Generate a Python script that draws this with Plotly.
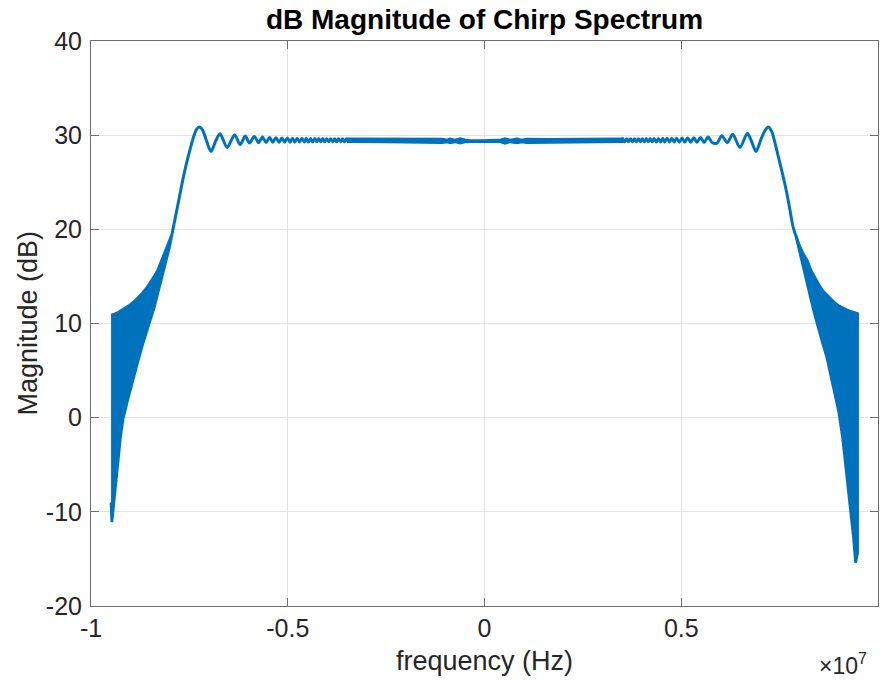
import plotly.graph_objects as go

# ---------------- data (frequency in MHz, magnitude in dB) ----------------
# left edge: dense oscillation band (outer/upper and inner/lower envelopes)
edge_left_up_f = [-9.49, -9.40, -9.30, -9.20, -9.10, -9.00, -8.90, -8.80, -8.70, -8.60,
                  -8.50, -8.40, -8.30, -8.20, -8.10, -8.00, -7.95]
edge_left_up_db = [10.9, 11.0, 11.2, 11.45, 11.7, 12.0, 12.35, 12.75, 13.2, 13.7,
                   14.3, 14.95, 15.7, 16.7, 17.7, 18.8, 19.4]
edge_left_lo_f = [-9.49, -9.47, -9.42, -9.37, -9.31, -9.25, -9.18, -9.13, -9.08, -9.00,
                  -8.90, -8.80, -8.70, -8.60, -8.50, -8.40, -8.30, -8.20, -8.10, -8.00, -7.95]
edge_left_lo_db = [-9.0, -11.1, -9.4, -7.0, -4.5, -2.0, 0.0, 0.8, 1.7, 3.0,
                   4.6, 6.1, 7.6, 9.0, 10.3, 11.6, 13.2, 14.8, 16.5, 18.2, 19.3]

# right edge: dense oscillation band
edge_right_up_f = [7.92, 8.00, 8.10, 8.20, 8.30, 8.40, 8.50, 8.60, 8.70, 8.80,
                   8.90, 9.00, 9.10, 9.20, 9.30, 9.40, 9.48, 9.48]
edge_right_up_db = [19.3, 18.3, 17.4, 16.7, 15.6, 14.8, 14.1, 13.45, 13.0, 12.55,
                    12.2, 11.9, 11.65, 11.45, 11.3, 11.15, 11.05, -14.4]
edge_right_lo_f = [7.92, 8.00, 8.10, 8.20, 8.30, 8.40, 8.50, 8.60, 8.70, 8.80,
                   8.90, 9.00, 9.10, 9.20, 9.30, 9.38, 9.43]
edge_right_lo_db = [19.2, 17.8, 16.1, 14.3, 12.5, 10.8, 9.2, 7.8, 6.4, 4.6,
                    2.6, 0.7, -2.1, -5.6, -9.6, -12.8, -15.4]

# left transition and Fresnel ripples (peaks / troughs)
ripple_left_f = [-7.95, -7.85, -7.75, -7.65, -7.55, -7.45, -7.38, -7.32, -7.25, -7.17,
                 -7.08, -6.95, -6.83, -6.72, -6.54, -6.35, -6.21, -6.08, -5.97, -5.85,
                 -5.74, -5.64, -5.55, -5.46, -5.38, -5.30, -5.22, -5.15, -5.08, -5.01,
                 -4.94, -4.88, -4.82, -4.76, -4.70, -4.64, -4.58, -4.53, -4.48, -4.42,
                 -4.37, -4.31, -4.26, -4.21, -4.16, -4.11, -4.06, -4.01, -3.96, -3.91,
                 -3.86, -3.81, -3.76, -3.71, -3.66, -3.61, -3.56, -3.51, -3.46]
ripple_left_db = [19.3, 21.4, 23.5, 25.6, 27.4, 29.0, 30.0, 30.6, 30.86, 30.6,
                  29.6, 28.27, 29.4, 30.15, 28.7, 30.04, 29.0, 29.9, 29.16, 29.86,
                  29.20, 29.80, 29.22, 29.76, 29.24, 29.73, 29.25, 29.71, 29.26, 29.69,
                  29.26, 29.68, 29.27, 29.67, 29.27, 29.66, 29.28, 29.66, 29.28, 29.65,
                  29.28, 29.65, 29.29, 29.64, 29.29, 29.64, 29.29, 29.63, 29.30, 29.63,
                  29.30, 29.62, 29.30, 29.62, 29.31, 29.61, 29.31, 29.61, 29.31]

# right transition and Fresnel ripples
ripple_right_f = [3.46, 3.51, 3.56, 3.61, 3.66, 3.71, 3.76, 3.81, 3.86, 3.91,
                  3.96, 4.01, 4.06, 4.11, 4.16, 4.21, 4.26, 4.31, 4.37, 4.42,
                  4.48, 4.53, 4.58, 4.64, 4.70, 4.76, 4.82, 4.88, 4.95, 5.02,
                  5.09, 5.16, 5.24, 5.32, 5.40, 5.49, 5.58, 5.68, 5.79, 5.91,
                  6.03, 6.17, 6.31, 6.49, 6.68, 6.79, 6.90, 7.03, 7.13, 7.21,
                  7.30, 7.38, 7.48, 7.59, 7.68, 7.76, 7.84, 7.92]
ripple_right_db = [29.31, 29.61, 29.31, 29.61, 29.31, 29.62, 29.30, 29.62, 29.30, 29.63,
                   29.30, 29.63, 29.29, 29.64, 29.29, 29.64, 29.29, 29.65, 29.28, 29.65,
                   29.28, 29.66, 29.28, 29.66, 29.27, 29.67, 29.27, 29.68, 29.26, 29.69,
                   29.26, 29.71, 29.25, 29.73, 29.24, 29.76, 29.22, 29.80, 29.20, 29.16,
                   29.95, 29.20, 30.10, 28.70, 30.20, 29.30, 28.27, 29.60, 30.50, 30.86,
                   30.40, 29.20, 27.50, 25.60, 23.90, 22.10, 20.30, 19.20]

# central flat region: thin band (upper / lower envelope of the fine ripple)
core_f = [-3.50, -2.50, -1.60, -1.30, -1.08, -0.95, -0.88, -0.75, -0.62,
          -0.50, -0.42, 0.00, 0.32, 0.42, 0.52, 0.65, 0.82, 0.95, 1.07,
          1.25, 1.60, 2.50, 3.50]
core_up_db = [29.60, 29.57, 29.54, 29.56, 29.58, 29.48, 29.60, 29.47, 29.62,
              29.50, 29.45, 29.42, 29.45, 29.50, 29.62, 29.47, 29.60, 29.48, 29.58,
              29.55, 29.54, 29.57, 29.60]
core_lo_db = [29.31, 29.29, 29.27, 29.22, 29.20, 29.30, 29.18, 29.30, 29.15,
              29.28, 29.32, 29.35, 29.32, 29.28, 29.15, 29.30, 29.18, 29.30, 29.20,
              29.22, 29.27, 29.29, 29.31]

xtick_vals = [-1e7, -5e6, 0, 5e6, 1e7]
xtick_text = ["-1", "-0.5", "0", "0.5", "1"]
ytick_vals = [-20, -10, 0, 10, 20, 30, 40]
ytick_text = ["-20", "-10", "0", "10", "20", "30", "40"]

MHZ = 1e6
BLUE = "#0072BD"


def band(up_f, up_db, lo_f, lo_db):
    xs = [f * MHZ for f in up_f] + [f * MHZ for f in lo_f[::-1]]
    ys = list(up_db) + list(lo_db[::-1])
    return xs, ys


fig = go.Figure()

for uf, ud, lf, ld in [
    (edge_left_up_f, edge_left_up_db, edge_left_lo_f, edge_left_lo_db),
    (edge_right_up_f, edge_right_up_db, edge_right_lo_f, edge_right_lo_db),
    (core_f, core_up_db, core_f, core_lo_db),
]:
    xs, ys = band(uf, ud, lf, ld)
    fig.add_trace(go.Scatter(x=xs, y=ys, mode="lines", fill="toself",
                             fillcolor=BLUE, line=dict(color=BLUE, width=2.8),
                             hoverinfo="skip", showlegend=False))

for rf, rd in [(ripple_left_f, ripple_left_db), (ripple_right_f, ripple_right_db)]:
    fig.add_trace(go.Scatter(x=[f * MHZ for f in rf], y=rd, mode="lines",
                             line=dict(color=BLUE, width=3, shape="spline", smoothing=0.8),
                             hoverinfo="skip", showlegend=False))

AX = "#6e6e6e"
GRID = "#e3e3e3"
TXT = "#262626"
FONT = "Liberation Sans"

fig.update_xaxes(range=[-1e7, 1e7], tickvals=xtick_vals, ticktext=xtick_text,
                 showgrid=True, gridcolor=GRID, gridwidth=1, zeroline=False,
                 showline=True, linecolor=AX, linewidth=1, mirror="ticks",
                 ticks="inside", ticklen=8, tickcolor=AX,
                 tickfont=dict(family=FONT, size=25, color=TXT))
fig.update_yaxes(range=[-20, 40], tickvals=ytick_vals, ticktext=ytick_text,
                 showgrid=True, gridcolor=GRID, gridwidth=1, zeroline=False,
                 showline=True, linecolor=AX, linewidth=1, mirror="ticks",
                 ticks="inside", ticklen=8, tickcolor=AX, ticklabelstandoff=3,
                 tickfont=dict(family=FONT, size=25, color=TXT))

fig.update_layout(
    width=881, height=680,
    margin=dict(l=91, r=3, t=41, b=74),
    paper_bgcolor="white", plot_bgcolor="white",
    font=dict(family=FONT, color=TXT),
    title=dict(text="<b>dB Magnitude of Chirp Spectrum</b>", x=0.5, xref="paper",
               xanchor="center", y=1 - 19 / 680, yref="container", yanchor="middle",
               font=dict(family=FONT, size=28, color="black")),
    annotations=[
        dict(text="frequency (Hz)", x=0.5, xref="paper", y=-55 / 565, yref="paper",
             xanchor="center", yanchor="middle", showarrow=False,
             font=dict(family=FONT, size=27, color=TXT)),
        dict(text="Magnitude (dB)", x=(27 - 91) / 787, xref="paper", y=0.5, yref="paper",
             xanchor="center", yanchor="middle", textangle=-90, showarrow=False,
             font=dict(family=FONT, size=27, color=TXT)),
        dict(text="×10<sup>7</sup>", x=(843 - 91) / 787, xref="paper", y=-58 / 565,
             yref="paper", xanchor="center", yanchor="middle", showarrow=False,
             font=dict(family=FONT, size=23, color=TXT)),
    ],
)

fig.write_html("out.html")
